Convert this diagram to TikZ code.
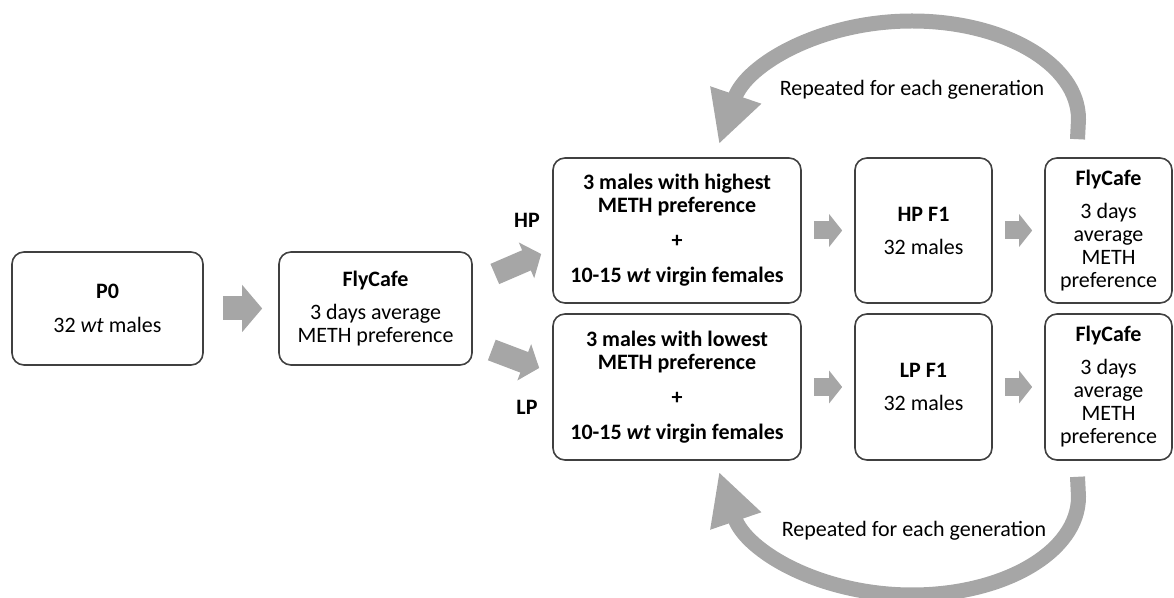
\documentclass[tikz,border=0pt]{standalone}
\usepackage{fontspec}
\setmainfont{Carlito}
\usepackage{tikz, amsmath}
\usetikzlibrary{positioning, arrows.meta}

\definecolor{arrowgray}{HTML}{A6A6A6}
\definecolor{boxline}{HTML}{404040}

\begin{document}
\begin{tikzpicture}[x=0.5pt, y=-0.5pt, font=\fontsize{11}{11.5}\selectfont]


\tikzstyle{box_style} = [draw=boxline, line width=0.8, rounded corners=6pt, align=center, inner sep=0pt]
\tikzstyle{big_arrow} = [draw=arrowgray, line width=12pt, -{Triangle[width=23pt, length=10pt, fill=arrowgray]}]
\tikzstyle{diag_arrow} = [draw=arrowgray, line width=11pt, -{Triangle[width=19pt, length=8pt, fill=arrowgray]}]
\tikzstyle{small_arrow} = [draw=arrowgray, line width=9pt, -{Triangle[width=16pt, length=6.5pt, fill=arrowgray]}, shorten <=6pt, shorten >=6pt]
\tikzstyle{loop_arrow} = [draw=arrowgray, line width=7.5pt, -{Triangle[width=25pt, length=26pt, fill=arrowgray]}]

\useasboundingbox (0,0) rectangle (1174,598);

\node[box_style, minimum width=95.5pt, minimum height=56.5pt] (p0) at (107.5, 308.5) {\textbf{P0}\\[5.5pt]32 \textit{wt} males};
\node[box_style, minimum width=96.5pt, minimum height=56.5pt] (cafe0) at (375.5, 308.5) {\textbf{FlyCafe}\\[5pt]3 days average\\METH preference};

\node[box_style, minimum width=124pt, minimum height=72.5pt] (hp) at (677, 230.5) {\textbf{3 males with highest}\\\textbf{METH preference}\\[6pt]\textbf{+}\\[6pt]\textbf{10-15 \textit{wt} virgin females}};
\node[box_style, minimum width=68.5pt, minimum height=72.5pt] (hpf) at (923.5, 230.5) {\textbf{HP F1}\\[5pt]32 males};
\node[box_style, minimum width=63.5pt, minimum height=72.5pt] (fch) at (1108.5, 230.5) {\textbf{FlyCafe}\\[5pt]3 days\\average\\METH\\preference};

\node[box_style, minimum width=124pt, minimum height=73pt] (lp) at (677, 387) {\textbf{3 males with lowest}\\\textbf{METH preference}\\[6pt]\textbf{+}\\[6pt]\textbf{10-15 \textit{wt} virgin females}};
\node[box_style, minimum width=68.5pt, minimum height=73pt] (lpf) at (923.5, 387) {\textbf{LP F1}\\[5pt]32 males};
\node[box_style, minimum width=63.5pt, minimum height=73pt] (fcl) at (1108.5, 387) {\textbf{FlyCafe}\\[5pt]3 days\\average\\METH\\preference};

\node (hplbl) at (527, 220) {\textbf{HP}};
\node (lplbl) at (527, 407) {\textbf{LP}};

\node (toplbl) at (912, 90) {Repeated for each generation};
\node (botlbl) at (914, 531) {Repeated for each generation};

\draw[big_arrow] ([xshift=9.5pt]p0.east) -- ([xshift=-8pt]cafe0.west);
\draw[diag_arrow] ([shift={(22,-34.5)}]cafe0.east) -- ([shift={(-11,23.5)}]hp.west);
\draw[diag_arrow] ([shift={(19,41.5)}]cafe0.east) -- ([shift={(-13,-19)}]lp.west);

\draw[small_arrow] (hp) -- (hpf);
\draw[small_arrow] (hpf) -- (fch);
\draw[small_arrow] (lp) -- (lpf);
\draw[small_arrow] (lpf) -- (fcl);

\draw[loop_arrow] ([shift={(-31,-18)}]fch.north) -- ++(1,-20) .. controls +(0,-55) and (1004,21) .. (912,21) .. controls (820,21) and (746,65) .. ([shift={(42,-13)}]hp.north);
\draw[loop_arrow] ([shift={(-31,16)}]fcl.south) -- ++(1,20) .. controls +(0,55) and (1004,595) .. (912,595) .. controls (820,595) and (746,551) .. ([shift={(42,11)}]lp.south);



\end{tikzpicture}
\end{document}
